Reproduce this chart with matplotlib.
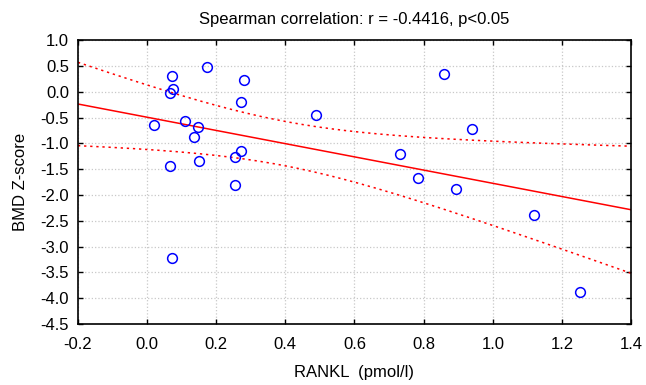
import matplotlib
matplotlib.use("Agg")
import matplotlib.pyplot as plt
import numpy as np

plt.rcParams['font.family'] = ['Liberation Sans', 'DejaVu Sans']

# RANKL (pmol/l) and BMD Z-score
rankl = [0.174, 0.073, 0.281, 0.074, 0.066, 0.271, 0.490, 0.020,
         0.110, 0.148, 0.135, 0.272, 0.254, 0.149, 0.065, 0.254,
         0.073, 0.859, 0.940, 0.731, 0.783, 0.893, 1.120, 1.253]
zscore = [0.49, 0.31, 0.24, 0.06, -0.03, -0.20, -0.45, -0.65,
          -0.56, -0.69, -0.87, -1.14, -1.27, -1.34, -1.43, -1.81,
          -3.22, 0.35, -0.71, -1.21, -1.67, -1.88, -2.39, -3.87]

title = "Spearman correlation: r = -0.4416, p<0.05"
xticks = np.arange(-0.2, 1.41, 0.2)
yticks = np.arange(-4.5, 1.01, 0.5)

x = np.array(rankl)
y = np.array(zscore)
n = len(x)
b, a = np.polyfit(x, y, 1)
xs = np.linspace(-0.2, 1.4, 200)
fit = a + b * xs
resid = y - (a + b * x)
s = np.sqrt(np.sum(resid**2) / (n - 2))
t = 2.074  # t(0.975, df=22)
se = s * np.sqrt(1 / n + (xs - x.mean())**2 / np.sum((x - x.mean())**2))

fig = plt.figure(figsize=(6.46, 3.85), dpi=100)
ax = fig.add_axes([0.1207, 0.1584, 0.8561, 0.7369])

ax.plot(xs, fit, c='red', lw=1.1)
ax.plot(xs, fit + t * se, c='red', lw=1.1, ls=(0, (1.5, 2.5)))
ax.plot(xs, fit - t * se, c='red', lw=1.1, ls=(0, (1.5, 2.5)))
ax.plot(x, y, 'o', ms=7, mfc='none', mec='blue', mew=1.1, zorder=3)

ax.set_xlim(-0.2, 1.4)
ax.set_ylim(-4.5, 1.0)
ax.set_xticks(xticks)
ax.set_yticks(yticks)
ax.set_xticklabels([f"{v:.1f}" for v in xticks])
ax.set_yticklabels([f"{v:.1f}" for v in yticks])
ax.grid(True, color='#c8c8c8', ls=':', lw=0.9)
ax.set_axisbelow(True)
ax.tick_params(direction='in', top=True, right=True, length=3.5,
               labelsize=12, width=1)
ax.tick_params(axis='x', pad=9)
ax.tick_params(axis='y', pad=6.5)
for sp in ax.spines.values():
    sp.set_linewidth(1.2)

ax.set_title(title, fontsize=12, pad=12)
ax.set_xlabel("RANKL  (pmol/l)", fontsize=12, labelpad=10)
ax.set_ylabel("BMD Z-score", fontsize=12, labelpad=9)

fig.savefig("out.png", dpi=100)
